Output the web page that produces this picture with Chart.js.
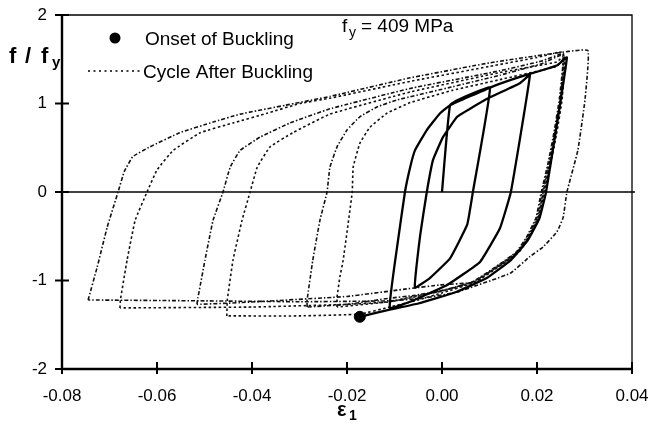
<!DOCTYPE html>
<html>
<head>
<meta charset="utf-8">
<script src="https://cdn.jsdelivr.net/npm/chart.js@4.4.0/dist/chart.umd.min.js"></script>
<style>
html, body { margin: 0; padding: 0; background: #fff; }
#wrap { width: 649px; height: 427px; }
</style>
</head>
<body>
<div id="wrap"><canvas id="myChart" width="649" height="427"></canvas></div>
<script>
'use strict';

var xTicks = [-0.08, -0.06, -0.04, -0.02, 0, 0.02, 0.04];
var yTicks = [-2, -1, 0, 1, 2];

// cycles before buckling (one continuous path)
var solidStrain = [0, 0.0017, 0.005, 0.0101, 0.0065, 0.0053, 0.0017, -0.0025, -0.0057, -0.0046, -0.0032, -0.0019, 0.0002, 0.0032, 0.0065, 0.0101, 0.0164, 0.0185, 0.0145, 0.0122, 0.0080, 0.0011, -0.0067, -0.0110, -0.0094, -0.0078, -0.0067, -0.0057, -0.0032, -0.0004, 0.0017, 0.0101, 0.0164, 0.0242, 0.0263, 0.0219, 0.0205, 0.0180, 0.0145, 0.0095, 0.0030, -0.0050, -0.0110, -0.0173];
var solidStress = [0, 0.98, 1.08, 1.18, 0, -0.37, -0.75, -0.97, -1.08, -0.49, 0, 0.36, 0.62, 0.85, 0.96, 1.07, 1.23, 1.32, 0, -0.41, -0.79, -1.05, -1.24, -1.31, -0.60, 0, 0.28, 0.47, 0.70, 0.89, 0.98, 1.18, 1.30, 1.43, 1.52, 0, -0.30, -0.55, -0.77, -0.97, -1.13, -1.26, -1.33, -1.41];

var onsetStrain = [-0.0173];
var onsetStress = [-1.41];

// cycles after buckling
var cycleAStrain = [-0.0745, -0.0726, -0.0705, -0.0682, -0.0669, -0.0651, -0.0615, -0.0552, -0.0482, -0.0425, -0.0330, -0.0236, -0.0067, 0.0101, 0.0227, 0.0307, 0.0301, 0.0286, 0.0263, 0.0255, 0.0242, 0.0213, 0.0185, 0.0143, 0.0032, -0.0040, -0.0110, -0.0300, -0.0500, -0.0745];
var cycleAStress = [-1.22, -0.85, -0.40, 0, 0.23, 0.40, 0.51, 0.67, 0.79, 0.88, 0.98, 1.08, 1.29, 1.46, 1.56, 1.60, 1.04, 0.47, 0, -0.29, -0.45, -0.62, -0.73, -0.92, -1.13, -1.20, -1.23, -1.24, -1.23, -1.22];

var cycleBStrain = [-0.0678, -0.0677, -0.0663, -0.0646, -0.0621, -0.0600, -0.0566, -0.0509, -0.0440, -0.0368, -0.0299, -0.0236, -0.0067, 0.0101, 0.0200, 0.0255, 0.0250, 0.0239, 0.0226, 0.0213, 0.0202, 0.0181, 0.0160, 0.0124, 0.0067, -0.0002, -0.0053, -0.0110, -0.0200, -0.0400, -0.0678];
var cycleBStress = [-1.31, -1.22, -0.77, -0.32, 0, 0.25, 0.47, 0.67, 0.78, 0.89, 1.00, 1.06, 1.25, 1.42, 1.52, 1.58, 1.07, 0.70, 0.33, 0, -0.29, -0.52, -0.68, -0.82, -1.01, -1.12, -1.18, -1.24, -1.27, -1.30, -1.31];

var cycleCStrain = [-0.0516, -0.0514, -0.0499, -0.0482, -0.0461, -0.0446, -0.0425, -0.0383, -0.0320, -0.0236, -0.0067, 0.0122, 0.0210, 0.0255, 0.0249, 0.0238, 0.0225, 0.0211, 0.0200, 0.0179, 0.0158, 0.0122, 0.0065, -0.0004, -0.0067, -0.0200, -0.0425, -0.0516];
var cycleCStress = [-1.27, -1.20, -0.77, -0.32, 0, 0.28, 0.47, 0.62, 0.78, 0.94, 1.17, 1.37, 1.48, 1.56, 1.05, 0.68, 0.32, 0, -0.29, -0.52, -0.68, -0.82, -1.02, -1.05, -1.09, -1.18, -1.25, -1.27];

var cycleDStrain = [-0.0453, -0.0452, -0.0440, -0.0421, -0.0404, -0.0389, -0.0362, -0.0314, -0.0236, -0.0067, 0.0122, 0.0242, 0.0258, 0.0253, 0.0242, 0.0229, 0.0216, 0.0204, 0.0183, 0.0162, 0.0126, 0.0070, 0.0000, -0.0050, -0.0110, -0.0173, -0.0300, -0.0453];
var cycleDStress = [-1.40, -1.22, -0.77, -0.32, 0, 0.28, 0.51, 0.67, 0.88, 1.13, 1.35, 1.47, 1.55, 1.05, 0.68, 0.32, 0, -0.29, -0.52, -0.68, -0.82, -1.02, -1.14, -1.22, -1.30, -1.38, -1.40, -1.40];

var cycleEStrain = [-0.0284, -0.0284, -0.0272, -0.0257, -0.0242, -0.0236, -0.0221, -0.0200, -0.0173, -0.0137, -0.0095, 0.0023, 0.0122, 0.0210, 0.0255, 0.0247, 0.0236, 0.0223, 0.0209, 0.0198, 0.0177, 0.0156, 0.0120, 0.0063, -0.0006, -0.0060, -0.0110, -0.0200, -0.0284];
var cycleEStress = [-1.30, -1.22, -0.77, -0.32, 0, 0.28, 0.51, 0.70, 0.85, 0.96, 1.04, 1.19, 1.32, 1.45, 1.55, 1.05, 0.68, 0.32, 0, -0.29, -0.52, -0.68, -0.82, -1.02, -1.12, -1.17, -1.20, -1.27, -1.30];

var cycleFStrain = [-0.0221, -0.0221, -0.0215, -0.0208, -0.0189, -0.0187, -0.0173, -0.0152, -0.0116, -0.0067, 0.0023, 0.0122, 0.0242, 0.0258, 0.0252, 0.0240, 0.0228, 0.0214, 0.0203, 0.0182, 0.0161, 0.0125, 0.0068, -0.0002, -0.0060, -0.0110, -0.0221];
var cycleFStress = [-1.30, -1.19, -0.96, -0.77, 0, 0.28, 0.55, 0.73, 0.89, 1.01, 1.15, 1.27, 1.42, 1.52, 1.05, 0.68, 0.32, 0, -0.29, -0.52, -0.68, -0.82, -1.02, -1.12, -1.18, -1.24, -1.30];

var FONT = '"Liberation Sans", Arial, sans-serif';
var DOTTED = [2.5, 2.5];
var DASHDOT = [4, 2, 1.5, 2];

function pts(xs, ys) {
	return xs.map(function(x, i) { return { x: x, y: ys[i] }; });
}

function cycle(xs, ys, dash) {
	return {
		data: pts(xs, ys),
		showLine: true,
		borderColor: '#111',
		borderWidth: 1.6,
		borderDash: dash,
		pointRadius: 0,
		tension: 0.1,
		fill: false
	};
}

// axes frame, ticks, zero line and the in-plot labels
var frame = {
	id: 'frame',
	beforeDatasetsDraw: function(chart) {
		var c = chart.ctx, a = chart.chartArea;
		var y0 = chart.scales.y.getPixelForValue(0);
		c.save();
		c.strokeStyle = '#000';
		c.lineWidth = 1.5;
		c.beginPath();
		c.moveTo(a.left, y0);
		c.lineTo(a.right + 3, y0);
		c.stroke();
		c.restore();
	},
	afterDraw: function(chart) {
		var c = chart.ctx, a = chart.chartArea;
		var xs = chart.scales.x, ys = chart.scales.y;
		c.save();
		c.strokeStyle = '#000';
		c.fillStyle = '#000';

		c.lineWidth = 1.3;
		c.beginPath();
		c.moveTo(a.left, a.top);
		c.lineTo(a.right, a.top);
		c.lineTo(a.right, a.bottom + 5);
		c.stroke();

		c.lineWidth = 2.4;
		c.beginPath();
		c.moveTo(a.left, a.top - 1);
		c.lineTo(a.left, a.bottom);
		c.lineTo(a.right, a.bottom);
		c.stroke();

		c.lineWidth = 2;
		yTicks.forEach(function(v) {
			var p = ys.getPixelForValue(v);
			c.beginPath();
			c.moveTo(a.left - 7, p);
			c.lineTo(a.left + 7, p);
			c.stroke();
		});
		xTicks.forEach(function(v) {
			var p = xs.getPixelForValue(v);
			c.beginPath();
			c.moveTo(p, a.bottom - 7);
			c.lineTo(p, a.bottom + 5);
			c.stroke();
		});

		// legend
		c.beginPath();
		c.arc(115, 38, 5.5, 0, Math.PI * 2);
		c.fill();
		c.font = '19px ' + FONT;
		c.textBaseline = 'alphabetic';
		c.textAlign = 'left';
		c.fillText('Onset of Buckling', 145, 45);
		c.lineWidth = 1.6;
		c.setLineDash([2, 3.5]);
		c.beginPath();
		c.moveTo(88, 71);
		c.lineTo(141, 71);
		c.stroke();
		c.setLineDash([]);
		c.fillText('Cycle After Buckling', 143, 78);

		// yield stress note
		c.fillText('f', 342, 32);
		c.font = '14px ' + FONT;
		c.fillText('y', 349, 37);
		c.font = '19px ' + FONT;
		c.fillText('= 409 MPa', 361, 32);

		// axis titles
		c.font = 'bold 22px ' + FONT;
		c.fillText('f', 9, 63);
		c.fillText('/', 25, 63);
		c.fillText('f', 41, 63);
		c.font = 'bold 15px ' + FONT;
		c.fillText('y', 52, 67);

		c.font = 'bold 20px ' + FONT;
		c.fillText('\u03b5', 337, 416);
		c.font = 'bold 14px ' + FONT;
		c.fillText('1', 349, 420);
		c.restore();
	}
};

var ctx = document.getElementById('myChart');

var myChart = new Chart(ctx, {
	type: 'scatter',
	data: {
		datasets: [
			{
				data: pts(onsetStrain, onsetStress),
				pointRadius: 5.5,
				pointBackgroundColor: '#000',
				pointBorderColor: '#000',
				showLine: false
			},
			{
				data: pts(solidStrain, solidStress),
				showLine: true,
				borderColor: '#000',
				borderWidth: 2.3,
				pointRadius: 0,
				tension: 0.1,
				fill: false
			},
			cycle(cycleAStrain, cycleAStress, DASHDOT),
			cycle(cycleBStrain, cycleBStress, DOTTED),
			cycle(cycleCStrain, cycleCStress, DASHDOT),
			cycle(cycleDStrain, cycleDStress, DOTTED),
			cycle(cycleEStrain, cycleEStress, DASHDOT),
			cycle(cycleFStrain, cycleFStress, DOTTED)
		]
	},
	options: {
		responsive: false,
		animation: false,
		devicePixelRatio: 1,
		layout: { padding: { top: 15, right: 17, left: 0, bottom: 0 } },
		plugins: {
			legend: { display: false },
			tooltip: { enabled: false }
		},
		scales: {
			x: {
				type: 'linear',
				min: -0.08,
				max: 0.04,
				grid: { display: false, tickLength: 17 },
				border: { display: false },
				afterBuildTicks: function(s) {
					s.ticks = xTicks.map(function(v) { return { value: v }; });
				},
				afterFit: function(s) { s.height = 58; },
				ticks: {
					padding: 0,
					color: '#000',
					maxRotation: 0,
					font: { family: FONT, size: 17 },
					callback: function(v) { return v.toFixed(2); }
				}
			},
			y: {
				type: 'linear',
				min: -2,
				max: 2,
				grid: { display: false, tickLength: 15 },
				border: { display: false },
				afterBuildTicks: function(s) {
					s.ticks = yTicks.map(function(v) { return { value: v }; });
				},
				afterFit: function(s) { s.width = 62; },
				ticks: {
					padding: 0,
					color: '#000',
					font: { family: FONT, size: 17 },
					callback: function(v) { return String(v); }
				}
			}
		}
	},
	plugins: [frame]
});
</script>
</body>
</html>
